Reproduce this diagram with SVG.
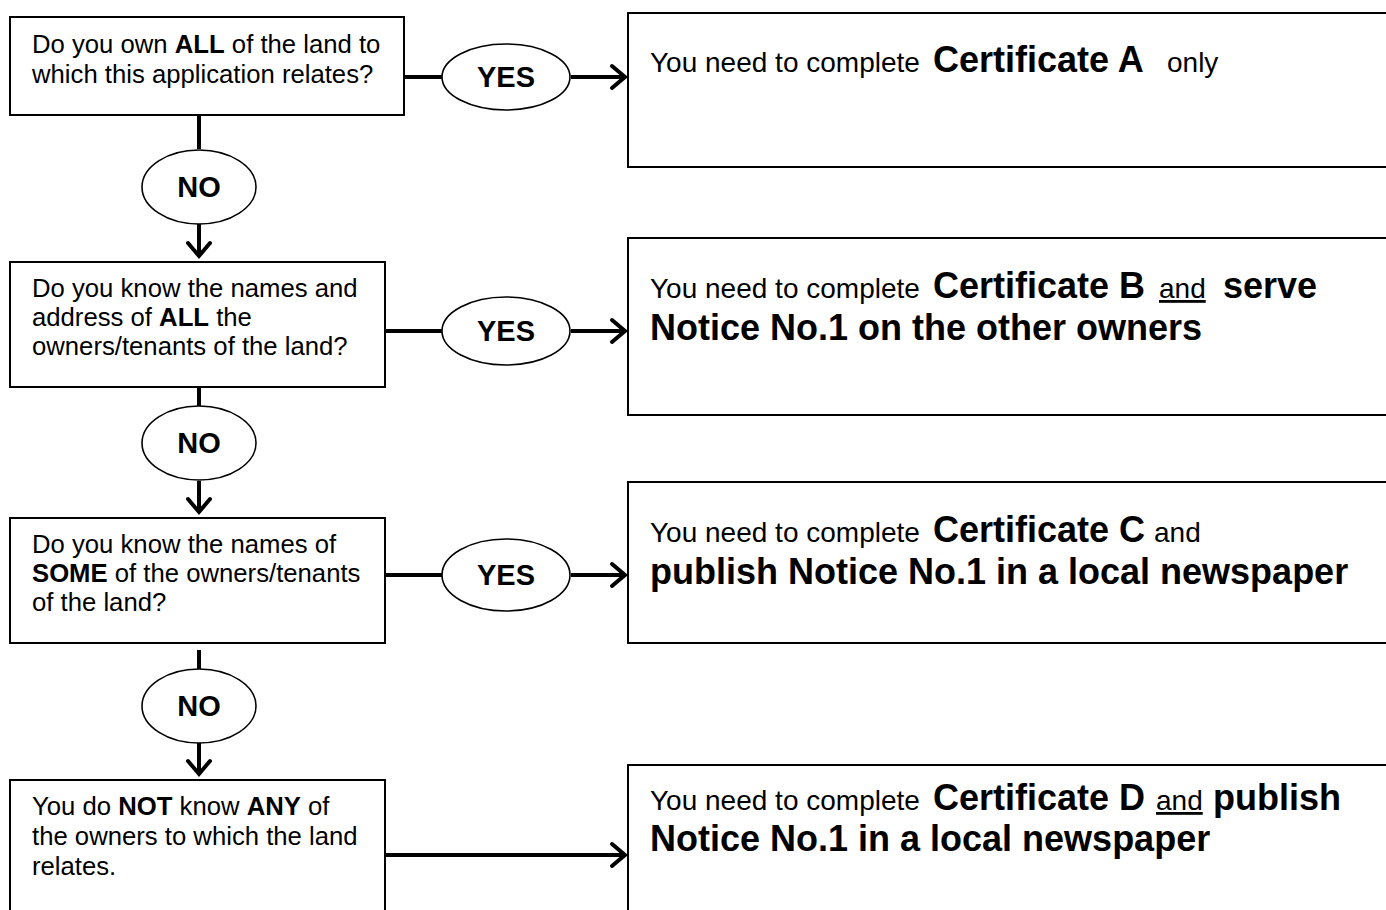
<svg xmlns="http://www.w3.org/2000/svg" width="1386" height="910" viewBox="0 0 1386 910">
<style>
.box{fill:#fff;stroke:#000;stroke-width:2}
.ell{fill:#fff;stroke:#000;stroke-width:1.6}
.q{font-family:"Liberation Sans",Arial,sans-serif;font-size:25.7px;fill:#000}
.lbl{font-family:"Liberation Sans",Arial,sans-serif;font-size:29px;font-weight:bold;fill:#000;text-anchor:middle}
.r{font-family:"Liberation Sans",Arial,sans-serif;font-size:28px;fill:#000}
.b{font-weight:bold;font-size:36px}
.c{fill:none;stroke:#000;stroke-width:4}
.ah{fill:none;stroke:#000;stroke-width:4;stroke-linecap:round;stroke-linejoin:miter}
</style>
<rect width="1386" height="910" fill="#fff"/>
<g id="connectors">
<line class="c" x1="404" y1="77" x2="442" y2="77"/>
<line class="c" x1="571" y1="77" x2="625" y2="77"/>
<polyline class="ah" points="612,66 625,77 612,88"/>
<line class="c" x1="199" y1="115" x2="199" y2="149"/>
<line class="c" x1="199" y1="223" x2="199" y2="256"/>
<polyline class="ah" points="188,243 199,256 210,243"/>
<line class="c" x1="385" y1="331" x2="442" y2="331"/>
<line class="c" x1="571" y1="331" x2="625" y2="331"/>
<polyline class="ah" points="612,320 625,331 612,342"/>
<line class="c" x1="199" y1="388" x2="199" y2="407"/>
<line class="c" x1="199" y1="481" x2="199" y2="512"/>
<polyline class="ah" points="188,499 199,512 210,499"/>
<line class="c" x1="385" y1="575" x2="442" y2="575"/>
<line class="c" x1="571" y1="575" x2="625" y2="575"/>
<polyline class="ah" points="612,564 625,575 612,586"/>
<line class="c" x1="199" y1="650" x2="199" y2="669"/>
<line class="c" x1="199" y1="743" x2="199" y2="774"/>
<polyline class="ah" points="188,761 199,774 210,761"/>
<line class="c" x1="385" y1="855" x2="625" y2="855"/>
<polyline class="ah" points="612,844 625,855 612,866"/>
</g>
<g id="q1">
<rect class="box" x="10" y="17" width="394" height="98"/>
<text class="q" x="32" y="53">Do you own <tspan font-weight="bold">ALL</tspan> of the land to</text>
<text class="q" x="32" y="83">which this application relates?</text>
</g>
<g id="yes1"><ellipse class="ell" cx="506" cy="77" rx="64" ry="33"/><text class="lbl" x="506" y="87">YES</text></g>
<g id="certA">
<rect class="box" x="628" y="13" width="780" height="154"/>
<text class="r" x="650" y="72">You need to complete</text>
<text class="r b" x="933" y="72">Certificate A</text>
<text class="r" x="1167" y="72">only</text>
</g>
<g id="no1"><ellipse class="ell" cx="199" cy="187" rx="57" ry="37"/><text class="lbl" x="199" y="197">NO</text></g>
<g id="q2">
<rect class="box" x="10" y="262" width="375" height="125"/>
<text class="q" x="32" y="297">Do you know the names and</text>
<text class="q" x="32" y="326">address of <tspan font-weight="bold">ALL</tspan> the</text>
<text class="q" x="32" y="355">owners/tenants of the land?</text>
</g>
<g id="yes2"><ellipse class="ell" cx="506" cy="331" rx="64" ry="34"/><text class="lbl" x="506" y="341">YES</text></g>
<g id="certB">
<rect class="box" x="628" y="238" width="780" height="177"/>
<text class="r" x="650" y="298">You need to complete</text>
<text class="r b" x="933" y="298">Certificate B</text>
<text class="r" x="1159" y="298" text-decoration="underline">and</text>
<text class="r b" x="1223" y="298">serve</text>
<text class="r b" x="650" y="340">Notice No.1 on the other owners</text>
</g>
<g id="no2"><ellipse class="ell" cx="199" cy="443" rx="57" ry="37"/><text class="lbl" x="199" y="453">NO</text></g>
<g id="q3">
<rect class="box" x="10" y="518" width="375" height="125"/>
<text class="q" x="32" y="553">Do you know the names of</text>
<text class="q" x="32" y="582"><tspan font-weight="bold">SOME</tspan> of the owners/tenants</text>
<text class="q" x="32" y="611">of the land?</text>
</g>
<g id="yes3"><ellipse class="ell" cx="506" cy="575" rx="64" ry="36"/><text class="lbl" x="506" y="585">YES</text></g>
<g id="certC">
<rect class="box" x="628" y="482" width="780" height="161"/>
<text class="r" x="650" y="542">You need to complete</text>
<text class="r b" x="933" y="542">Certificate C</text>
<text class="r" x="1154" y="542">and</text>
<text class="r b" x="650" y="584">publish Notice No.1 in a local newspaper</text>
</g>
<g id="no3"><ellipse class="ell" cx="199" cy="706" rx="57" ry="37"/><text class="lbl" x="199" y="716">NO</text></g>
<g id="q4">
<rect class="box" x="10" y="780" width="375" height="140"/>
<text class="q" x="32" y="815">You do <tspan font-weight="bold">NOT</tspan> know <tspan font-weight="bold">ANY</tspan> of</text>
<text class="q" x="32" y="845">the owners to which the land</text>
<text class="q" x="32" y="875">relates.</text>
</g>
<g id="certD">
<rect class="box" x="628" y="765" width="780" height="160"/>
<text class="r" x="650" y="810">You need to complete</text>
<text class="r b" x="933" y="810">Certificate D</text>
<text class="r" x="1156" y="810" text-decoration="underline">and</text>
<text class="r b" x="1213" y="810">publish</text>
<text class="r b" x="650" y="851">Notice No.1 in a local newspaper</text>
</g>
</svg>
